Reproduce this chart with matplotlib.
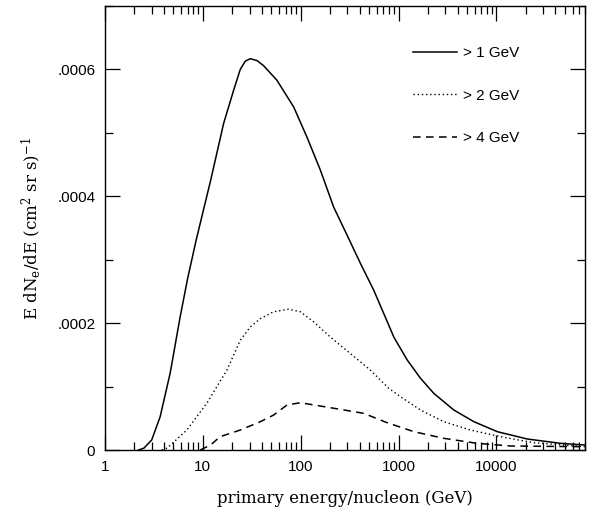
#electron yield per primary energy, three threshold curves
import numpy as np
import matplotlib
matplotlib.use('Agg')
import matplotlib.pyplot as plt
from matplotlib.ticker import FixedLocator, FuncFormatter, LogLocator, MultipleLocator

#values (energy in GeV/nucleon, E dN/dE)
e_1gev=[2.2,2.5,3.0,3.66,4.63,5.86,7.0,8.54,12,16.3,20.6,24.1,27.1,30.5,35.7,41.7,57.1,84.6,116,159,217,297,408,557,706,894,1224,1675,2290,3670,5890,10200,20700,45400,80000]
v_1gev=[0,3e-6,1.58e-5,5.25e-5,1.21e-4,2.10e-4,2.71e-4,3.31e-4,4.25e-4,5.15e-4,5.67e-4,6.00e-4,6.13e-4,6.17e-4,6.14e-4,6.06e-4,5.83e-4,5.41e-4,4.93e-4,4.41e-4,3.83e-4,3.39e-4,2.94e-4,2.52e-4,2.15e-4,1.78e-4,1.42e-4,1.13e-4,8.93e-5,6.3e-5,4.46e-5,2.89e-5,1.73e-5,1.05e-5,7.9e-6]

e_2gev=[3.8,4.3,5.0,6.86,11,17.6,24.1,30.5,38.6,52.8,75.2,99,135.6,201,322,515,794,1046,1675,2900,5440,11000,24000,80000]
v_2gev=[0,3e-6,1.2e-5,3.15e-5,7.4e-5,1.26e-4,1.73e-4,1.94e-4,2.07e-4,2.18e-4,2.22e-4,2.18e-4,2.02e-4,1.78e-4,1.52e-4,1.26e-4,9.72e-5,8.4e-5,6.3e-5,4.46e-5,3.15e-5,2.1e-5,1.15e-5,5.2e-6]

e_4gev=[9.4,12,15,24.1,38.6,52.8,72.3,99,159,254,441,764,1432,2900,6350,14000,80000]
v_4gev=[0,8e-6,2.1e-5,3.15e-5,4.46e-5,5.51e-5,7.09e-5,7.46e-5,6.93e-5,6.41e-5,5.78e-5,4.3e-5,2.89e-5,1.84e-5,1.05e-5,6.3e-6,5.2e-6]

labels=['> 1 GeV','> 2 GeV','> 4 GeV']
x_ticks=[1,10,100,1000,10000]
y_ticks=[0,0.0002,0.0004,0.0006]
y_ticklabels=['0','.0002','.0004','.0006']

plt.rcParams['mathtext.fontset']='dejavuserif'
fig=plt.figure(figsize=(5.98,5.15),dpi=100)
ax=fig.add_axes([0.1756,0.1262,0.8024,0.8621])

ax.plot(e_1gev,v_1gev,color='black',lw=1.1,ls='-',label=labels[0])
ax.plot(e_2gev,v_2gev,color='black',lw=1.0,ls=(0,(1,2)),label=labels[1])
ax.plot(e_4gev,v_4gev,color='black',lw=1.1,ls=(0,(5,3.5)),label=labels[2])

ax.set_xscale('log')
ax.set_xlim(1,80000)
ax.set_ylim(0,0.0007)

ax.xaxis.set_major_locator(FixedLocator(x_ticks))
ax.xaxis.set_major_formatter(FuncFormatter(lambda v,p: '%d'%round(v)))
ax.xaxis.set_minor_locator(LogLocator(base=10,subs=np.arange(2,10),numticks=20))
ax.xaxis.set_minor_formatter(FuncFormatter(lambda v,p: ''))
ax.set_yticks(y_ticks)
ax.set_yticklabels(y_ticklabels)
ax.yaxis.set_minor_locator(MultipleLocator(0.0001))

ax.tick_params(which='both',direction='in',top=True,right=True,width=0.9,colors='black')
ax.tick_params(which='major',length=11,labelsize=11,pad=7)
ax.tick_params(which='minor',length=5.8)
for lab in ax.get_xticklabels()+ax.get_yticklabels():
    lab.set_family('Liberation Sans')
for s in ax.spines.values():
    s.set_linewidth(1.0)

ax.set_xlabel('primary energy/nucleon (GeV)',family='DejaVu Serif',fontsize=12,labelpad=12)
ax.set_ylabel(r'E dN$_\mathrm{e}$/dE (cm$^2$ sr s)$^{-1}$',family='DejaVu Serif',fontsize=12,labelpad=10)

leg=ax.legend(loc='upper left',bbox_to_anchor=(0.642,0.909),frameon=False,borderpad=0,borderaxespad=0,
              handlelength=2.9,handletextpad=0.35,labelspacing=1.85,prop={'family':'Liberation Sans','size':11})

fig.savefig('out.png',dpi=100)
